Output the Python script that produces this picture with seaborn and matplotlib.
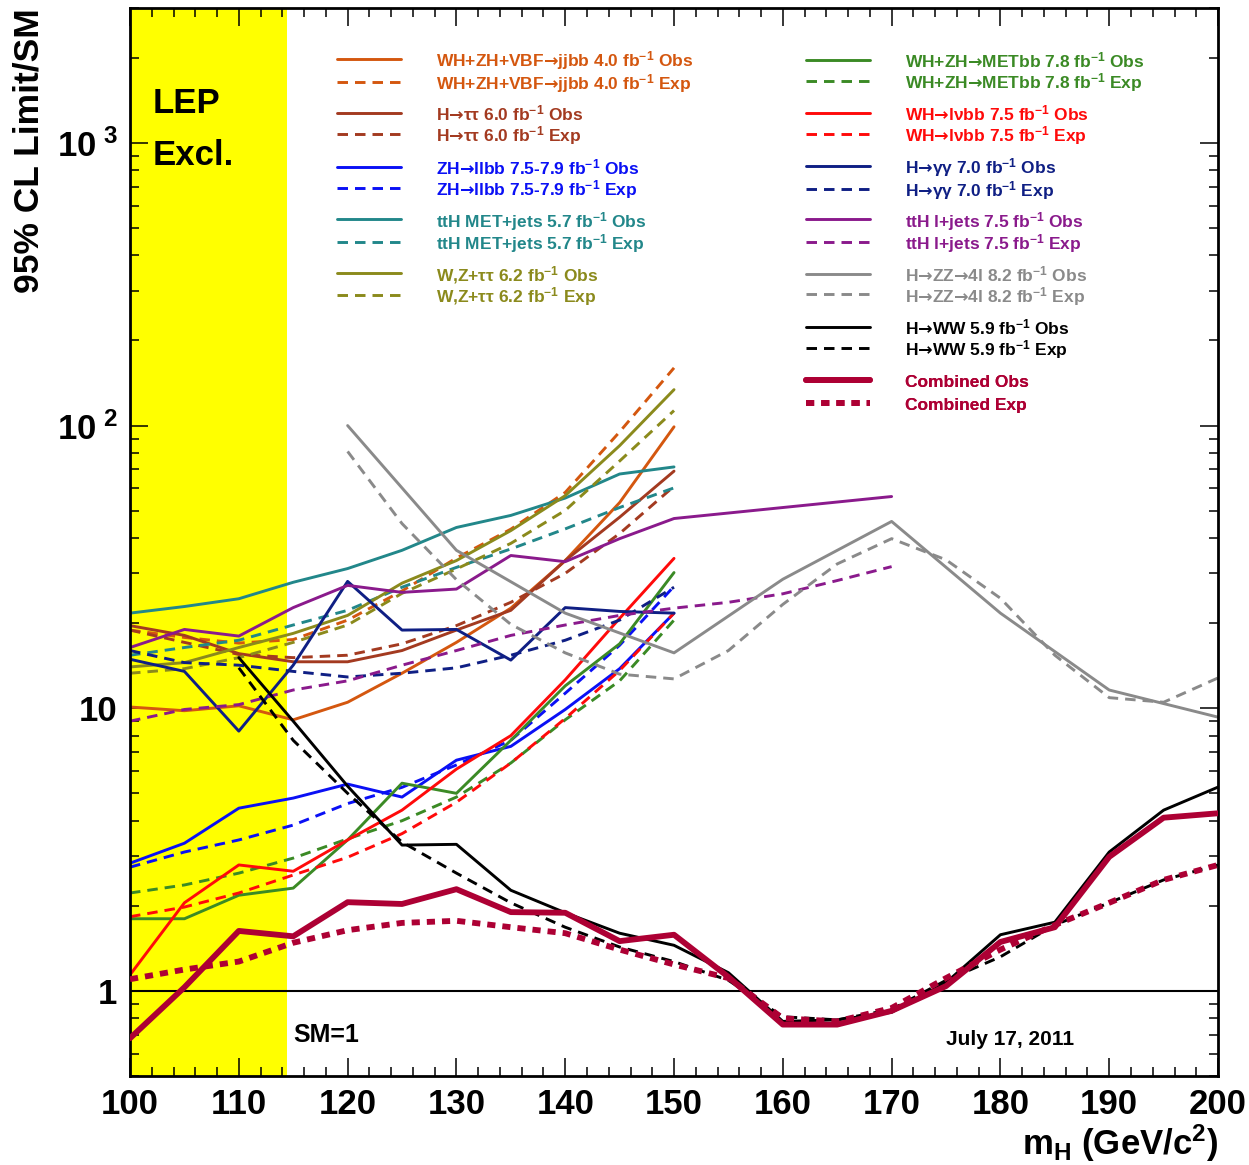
import matplotlib
matplotlib.use("Agg")
import matplotlib.pyplot as plt
from matplotlib.ticker import MultipleLocator, LogLocator, NullFormatter
import seaborn as sns

# Higgs mass points (GeV/c^2)
mass_lo = [100, 105, 110, 115, 120, 125, 130, 135, 140, 145, 150]
mass_all = [100, 105, 110, 115, 120, 125, 130, 135, 140, 145, 150,
            155, 160, 165, 170, 175, 180, 185, 190, 195, 200]
mass_ww = mass_all[2:]
mass_lj_obs = mass_lo + [170]
mass_lj_exp = mass_all[:15]
mass_zz_obs = [120, 130, 140, 150, 160, 170, 180, 190, 200]
mass_zz_exp = mass_all[4:]

# 95% CL limits / SM, per channel
jjbb_obs = [10.1, 9.8, 10.2, 9.1, 10.5, 13.3, 17.1, 22.6, 33.3, 53.4, 99]
jjbb_exp = [18.9, 17.8, 17.0, 17.5, 20.5, 26, 34, 43, 58, 95, 160]
tautau_obs = [19.6, 18.1, 15.6, 14.6, 14.6, 16.0, 18.9, 22.2, 33.3, 47.4, 69]
tautau_exp = [18.9, 17.1, 15.5, 15.1, 15.4, 16.9, 19.6, 23.7, 30, 41.5, 61]
llbb_obs = [2.83, 3.33, 4.43, 4.81, 5.39, 4.85, 6.55, 7.33, 9.9, 13.8, 21.7]
llbb_exp = [2.74, 3.1, 3.42, 3.86, 4.6, 5.25, 6.3, 7.7, 11.3, 16.7, 27]
ttmet_obs = [21.7, 22.9, 24.4, 27.9, 31.2, 36.2, 43.6, 48.1, 55.4, 67.4, 71.4]
ttmet_exp = [15.4, 16.4, 17.4, 19.7, 22.2, 26.8, 31.5, 36.6, 43.1, 51.3, 60.2]
wztt_obs = [14.0, 14.5, 16.4, 18.4, 21.3, 27.7, 33.3, 42.5, 56.5, 84.9, 134]
wztt_exp = [13.3, 13.8, 15.1, 17.1, 19.7, 25.5, 31.1, 38.3, 50.1, 74.9, 113]
metbb_obs = [1.80, 1.80, 2.18, 2.31, 3.42, 5.43, 5.0, 7.7, 12.0, 16.9, 30.2]
metbb_exp = [2.22, 2.37, 2.61, 2.95, 3.45, 4.0, 4.85, 6.4, 9.1, 12.5, 20.5]
lvbb_obs = [1.14, 2.05, 2.79, 2.65, 3.42, 4.36, 6.09, 8.0, 12.6, 20.8, 33.9]
lvbb_exp = [1.83, 1.98, 2.22, 2.57, 2.97, 3.6, 4.65, 6.4, 9.2, 13.6, 21.7]
gg_obs = [14.9, 13.5, 8.3, 14.2, 28.1, 18.9, 19.0, 14.8, 22.7, 22.0, 21.7]
gg_exp = [16.0, 14.5, 14.2, 13.5, 12.9, 13.3, 13.9, 15.4, 17.4, 20.5, 26.8]
ttlj_obs = [16.4, 19.0, 18.0, 22.7, 27.2, 25.7, 26.4, 34.7, 33.0, 39.8, 46.9, 56.1]
ttlj_exp = [9.0, 9.9, 10.3, 11.6, 12.5, 14.2, 16.0, 18.1, 19.7, 21.3, 22.6,
            23.7, 25.4, 28.3, 31.7]
zz_obs = [100, 36.2, 21.7, 15.7, 28.6, 45.8, 21.7, 11.6, 9.3]
zz_exp = [81, 45, 28.5, 19.8, 15.7, 13.2, 12.7, 16.0, 23.3, 32.4, 39.8,
          33.5, 24.5, 15.4, 10.9, 10.5, 12.8]
ww_obs = [15.1, 9.0, 5.3, 3.28, 3.30, 2.27, 1.89, 1.60, 1.45, 1.16, 0.78,
          0.79, 0.84, 1.07, 1.58, 1.75, 3.1, 4.36, 5.26]
ww_exp = [13.9, 7.7, 5.0, 3.36, 2.61, 2.05, 1.68, 1.43, 1.27, 1.09, 0.81,
          0.79, 0.86, 1.09, 1.32, 1.71, 2.05, 2.47, 2.79]
comb_obs = [0.68, 1.03, 1.63, 1.56, 2.06, 2.03, 2.29, 1.90, 1.89, 1.50, 1.58,
            1.12, 0.76, 0.76, 0.85, 1.04, 1.49, 1.68, 2.98, 4.1, 4.25]
comb_exp = [1.10, 1.19, 1.27, 1.48, 1.64, 1.74, 1.77, 1.68, 1.60, 1.40, 1.24,
            1.11, 0.80, 0.78, 0.87, 1.11, 1.40, 1.71, 2.05, 2.47, 2.79]

FB = r"fb$^{-1}$"
ARR = "$\\mathsf{\u2192}$"
# (label stem, obs x, obs y, exp x, exp y, colour, column)
channels = [
    ("WH+ZH+VBF" + ARR + "jjbb 4.0 " + FB, mass_lo, jjbb_obs, mass_lo, jjbb_exp, "#d4570f", 0),
    ("H" + ARR + "\u03c4\u03c4 6.0 " + FB, mass_lo, tautau_obs, mass_lo, tautau_exp, "#a33a20", 0),
    ("ZH" + ARR + "llbb 7.5-7.9 " + FB, mass_lo, llbb_obs, mass_lo, llbb_exp, "#0a10f5", 0),
    ("ttH MET+jets 5.7 " + FB, mass_lo, ttmet_obs, mass_lo, ttmet_exp, "#22878a", 0),
    ("W,Z+\u03c4\u03c4 6.2 " + FB, mass_lo, wztt_obs, mass_lo, wztt_exp, "#8b8a1c", 0),
    ("WH+ZH" + ARR + "METbb 7.8 " + FB, mass_lo, metbb_obs, mass_lo, metbb_exp, "#3b8a25", 1),
    ("WH" + ARR + "l\u03bdbb 7.5 " + FB, mass_lo, lvbb_obs, mass_lo, lvbb_exp, "#ff0a0a", 1),
    ("H" + ARR + "\u03b3\u03b3 7.0 " + FB, mass_lo, gg_obs, mass_lo, gg_exp, "#0f1f84", 1),
    ("ttH l+jets 7.5 " + FB, mass_lj_obs, ttlj_obs, mass_lj_exp, ttlj_exp, "#8a1a8c", 1),
    ("H" + ARR + "ZZ" + ARR + "4l 8.2 " + FB, mass_zz_obs, zz_obs, mass_zz_exp, zz_exp, "#8a8a8a", 1),
    ("H" + ARR + "WW 5.9 " + FB, mass_ww, ww_obs, mass_ww, ww_exp, "#000000", 1),
    ("Combined", mass_all, comb_obs, mass_all, comb_exp, "#ad0034", 1),
]

sns.set_style("ticks")
plt.rcParams['font.family'] = ['Liberation Sans', 'DejaVu Sans']
plt.rcParams['font.weight'] = 'bold'
plt.rcParams['axes.labelweight'] = 'bold'
plt.rcParams['text.color'] = 'black'
plt.rcParams['axes.labelcolor'] = 'black'
plt.rcParams['axes.edgecolor'] = 'black'
plt.rcParams['xtick.color'] = 'black'
plt.rcParams['ytick.color'] = 'black'
plt.rcParams['mathtext.fontset'] = 'custom'
plt.rcParams['mathtext.rm'] = 'Liberation Sans:bold'
plt.rcParams['mathtext.it'] = 'Liberation Sans:bold'
plt.rcParams['mathtext.bf'] = 'Liberation Sans:bold'
plt.rcParams['mathtext.sf'] = 'DejaVu Sans'
plt.rcParams['mathtext.default'] = 'rm'

fig = plt.figure(figsize=(12.49, 11.65), dpi=100)
ax = fig.add_axes([0.1041, 0.0764, 0.8711, 0.9167])

ax.axvspan(100, 114.4, color="#ffff00", lw=0, zorder=0)
ax.axhline(1, color="black", lw=1.5, zorder=1)

pairs = []
for stem, xo, yo, xe, ye, col, column in channels:
    big = stem == "Combined"
    lw = 4.2 if big else 2.1
    sns.lineplot(x=xo, y=yo, ax=ax, color=col, lw=lw, zorder=4 if big else 2)
    l_obs = ax.lines[-1]
    sns.lineplot(x=xe, y=ye, ax=ax, color=col, lw=lw, zorder=3 if big else 2)
    l_exp = ax.lines[-1]
    l_exp.set_dashes((1.4, 1.2) if big else (3.6, 2.4))
    pairs.append((stem, l_obs, l_exp, column))

ax.set_yscale("log")
ax.set_xlim(100, 200)
ax.set_ylim(0.5, 3000)

# legend: one small legend per channel pair, two columns
row0 = 72
step = 53.5
counts = [0, 0]
for stem, l_obs, l_exp, column in pairs:
    i = counts[column]
    counts[column] += 1
    yc = row0 + step * i
    xa = 0.1903 if column == 0 else 0.6213
    leg = ax.legend([l_obs, l_exp], [stem + " Obs", stem + " Exp"],
                    loc="center left", bbox_to_anchor=(xa, (1076 - yc) / 1068),
                    frameon=False, fontsize=12.5, handlelength=3.7,
                    handleheight=1.27, handletextpad=2.0,
                    labelspacing=0.25 if stem == "Combined" else 0.0,
                    borderpad=0, borderaxespad=0, labelcolor="linecolor")
    ax.add_artist(leg)

ax.set_yticks([1, 10, 100, 1000])
ax.set_yticklabels(["1", "10", r"10$^{\ 2}$", r"10$^{\ 3}$"])
ax.yaxis.set_minor_locator(LogLocator(base=10, subs=range(2, 10)))
ax.yaxis.set_minor_formatter(NullFormatter())
ax.set_xticks(range(100, 201, 10))
ax.xaxis.set_minor_locator(MultipleLocator(2))

ax.tick_params(which="both", direction="in", top=True, right=True, width=1.1,
               color="black", labelcolor="black")
ax.tick_params(which="major", length=13, labelsize=25, pad=9)
ax.tick_params(which="minor", length=6.5)
for s in ax.spines.values():
    s.set_linewidth(2)
    s.set_color("black")

ax.set_ylabel("95% CL Limit/SM", fontsize=25.5, loc="top", labelpad=8)
ax.set_xlabel(r"m$_{\rm H}$ (GeV/c$^{2}$)", fontsize=25, loc="right", labelpad=1)

ax.text(0.021, 0.911, "LEP", transform=ax.transAxes, fontsize=25, va="center")
ax.text(0.021, 0.862, "Excl.", transform=ax.transAxes, fontsize=25, va="center")
ax.text(0.1498, 0.038, "SM=1", transform=ax.transAxes, fontsize=18, va="center")
ax.text(0.75, 0.034, "July 17, 2011", transform=ax.transAxes, fontsize=15, va="center")

fig.savefig("out.png", dpi=100)
